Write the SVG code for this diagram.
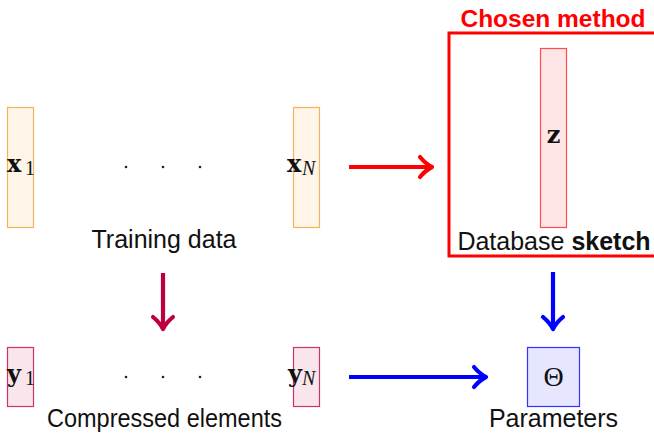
<svg xmlns="http://www.w3.org/2000/svg" width="654" height="433" viewBox="0 0 654 433">
  <style>
    .lbl { font-family: "Liberation Sans", Arial, sans-serif; font-size: 25px; fill: #111; text-anchor: middle; }
    .m { font-family: "DejaVu Serif", serif; font-weight: bold; font-size: 24px; fill: #111; }
    .sub { font-family: "Liberation Serif", serif; font-size: 20px; fill: #111; }
    .it { font-style: italic; }
    .xbox { fill: #fff5e8; stroke: #f4b25a; stroke-width: 1.2; }
    .ybox { fill: #f9e6ec; stroke: #cc3366; stroke-width: 1.2; }
    .zbox { fill: #ffe6e6; stroke: #ff4d4d; stroke-width: 1.2; }
    .tbox { fill: #e6e6ff; stroke: #3333ff; stroke-width: 1.2; }
    .dot { fill: #222; }
    .arr { fill: none; stroke-width: 4.2; }
  </style>
  <defs>
    <marker id="headRed" markerUnits="userSpaceOnUse" orient="auto" markerWidth="30" markerHeight="30" viewBox="-15 -15 30 30" refX="0" refY="0" overflow="visible">
      <path d="M -12,-10 C -7,-4 -2,-1 0,0 C -2,1 -7,4 -12,10" fill="none" stroke="#ff0000" stroke-width="4.2" stroke-linecap="round" stroke-linejoin="round"/>
    </marker>
    <marker id="headBlue" markerUnits="userSpaceOnUse" orient="auto" markerWidth="30" markerHeight="30" viewBox="-15 -15 30 30" refX="0" refY="0" overflow="visible">
      <path d="M -12,-10 C -7,-4 -2,-1 0,0 C -2,1 -7,4 -12,10" fill="none" stroke="#0000ff" stroke-width="4.2" stroke-linecap="round" stroke-linejoin="round"/>
    </marker>
    <marker id="headPurple" markerUnits="userSpaceOnUse" orient="auto" markerWidth="30" markerHeight="30" viewBox="-15 -15 30 30" refX="0" refY="0" overflow="visible">
      <path d="M -12,-10 C -7,-4 -2,-1 0,0 C -2,1 -7,4 -12,10" fill="none" stroke="#bf0040" stroke-width="4.2" stroke-linecap="round" stroke-linejoin="round"/>
    </marker>
  </defs>

  <!-- training data -->
  <g id="x1">
    <rect class="xbox" x="7.5" y="107.5" width="26" height="120"/>
    <text class="m" x="7" y="172">x</text>
    <text class="sub" x="25" y="175">1</text>
  </g>
  <g id="xdots">
    <circle class="dot" cx="126" cy="167" r="1.3"/>
    <circle class="dot" cx="163" cy="167" r="1.3"/>
    <circle class="dot" cx="200" cy="167" r="1.3"/>
  </g>
  <g id="xN">
    <rect class="xbox" x="293.5" y="107.5" width="26" height="120"/>
    <text class="m" x="287" y="172">x</text>
    <text class="sub it" x="302" y="175">N</text>
  </g>
  <g id="training-label">
    <text class="lbl" x="164" y="248">Training data</text>
  </g>

  <!-- chosen method -->
  <g id="chosen-method">
    <text x="553" y="27" font-family="Liberation Sans, Arial, sans-serif" font-weight="bold" font-size="24.5" fill="#ff0000" text-anchor="middle">Chosen method</text>
    <rect x="449" y="33" width="210" height="223" fill="none" stroke="#ff0000" stroke-width="3"/>
  </g>
  <g id="z">
    <rect class="zbox" x="540.5" y="48.5" width="26" height="179"/>
    <text class="m" x="553.5" y="143" text-anchor="middle">z</text>
  </g>
  <g id="sketch-label">
    <text class="lbl" x="554" y="250">Database <tspan font-weight="bold">sketch</tspan></text>
  </g>

  <!-- compressed elements -->
  <g id="y1">
    <rect class="ybox" x="7.5" y="347.5" width="26" height="59"/>
    <text class="m" x="7" y="382">y</text>
    <text class="sub" x="25" y="385">1</text>
  </g>
  <g id="ydots">
    <circle class="dot" cx="126" cy="377" r="1.3"/>
    <circle class="dot" cx="163" cy="377" r="1.3"/>
    <circle class="dot" cx="200" cy="377" r="1.3"/>
  </g>
  <g id="yN">
    <rect class="ybox" x="293.5" y="347.5" width="26" height="59"/>
    <text class="m" x="288" y="382">y</text>
    <text class="sub it" x="302" y="385">N</text>
  </g>
  <g id="compressed-label">
    <text class="lbl" x="164.5" y="427" textLength="235" lengthAdjust="spacingAndGlyphs">Compressed elements</text>
  </g>

  <!-- parameters -->
  <g id="theta">
    <rect class="tbox" x="527.5" y="347.5" width="52" height="59"/>
    <text x="553.5" y="386" font-family="Liberation Serif, serif" font-size="28" fill="#111" text-anchor="middle">Θ</text>
  </g>
  <g id="param-label">
    <text class="lbl" x="553.5" y="427">Parameters</text>
  </g>

  <!-- connectors -->
  <g id="connectors">
    <line class="arr" x1="349" y1="167" x2="432" y2="167" stroke="#ff0000" marker-end="url(#headRed)"/>
    <line class="arr" x1="163" y1="273" x2="163" y2="329" stroke="#bf0040" marker-end="url(#headPurple)"/>
    <line class="arr" x1="553" y1="272" x2="553" y2="329" stroke="#0000ff" marker-end="url(#headBlue)"/>
    <line class="arr" x1="349" y1="377" x2="486" y2="377" stroke="#0000ff" marker-end="url(#headBlue)"/>
  </g>
</svg>
